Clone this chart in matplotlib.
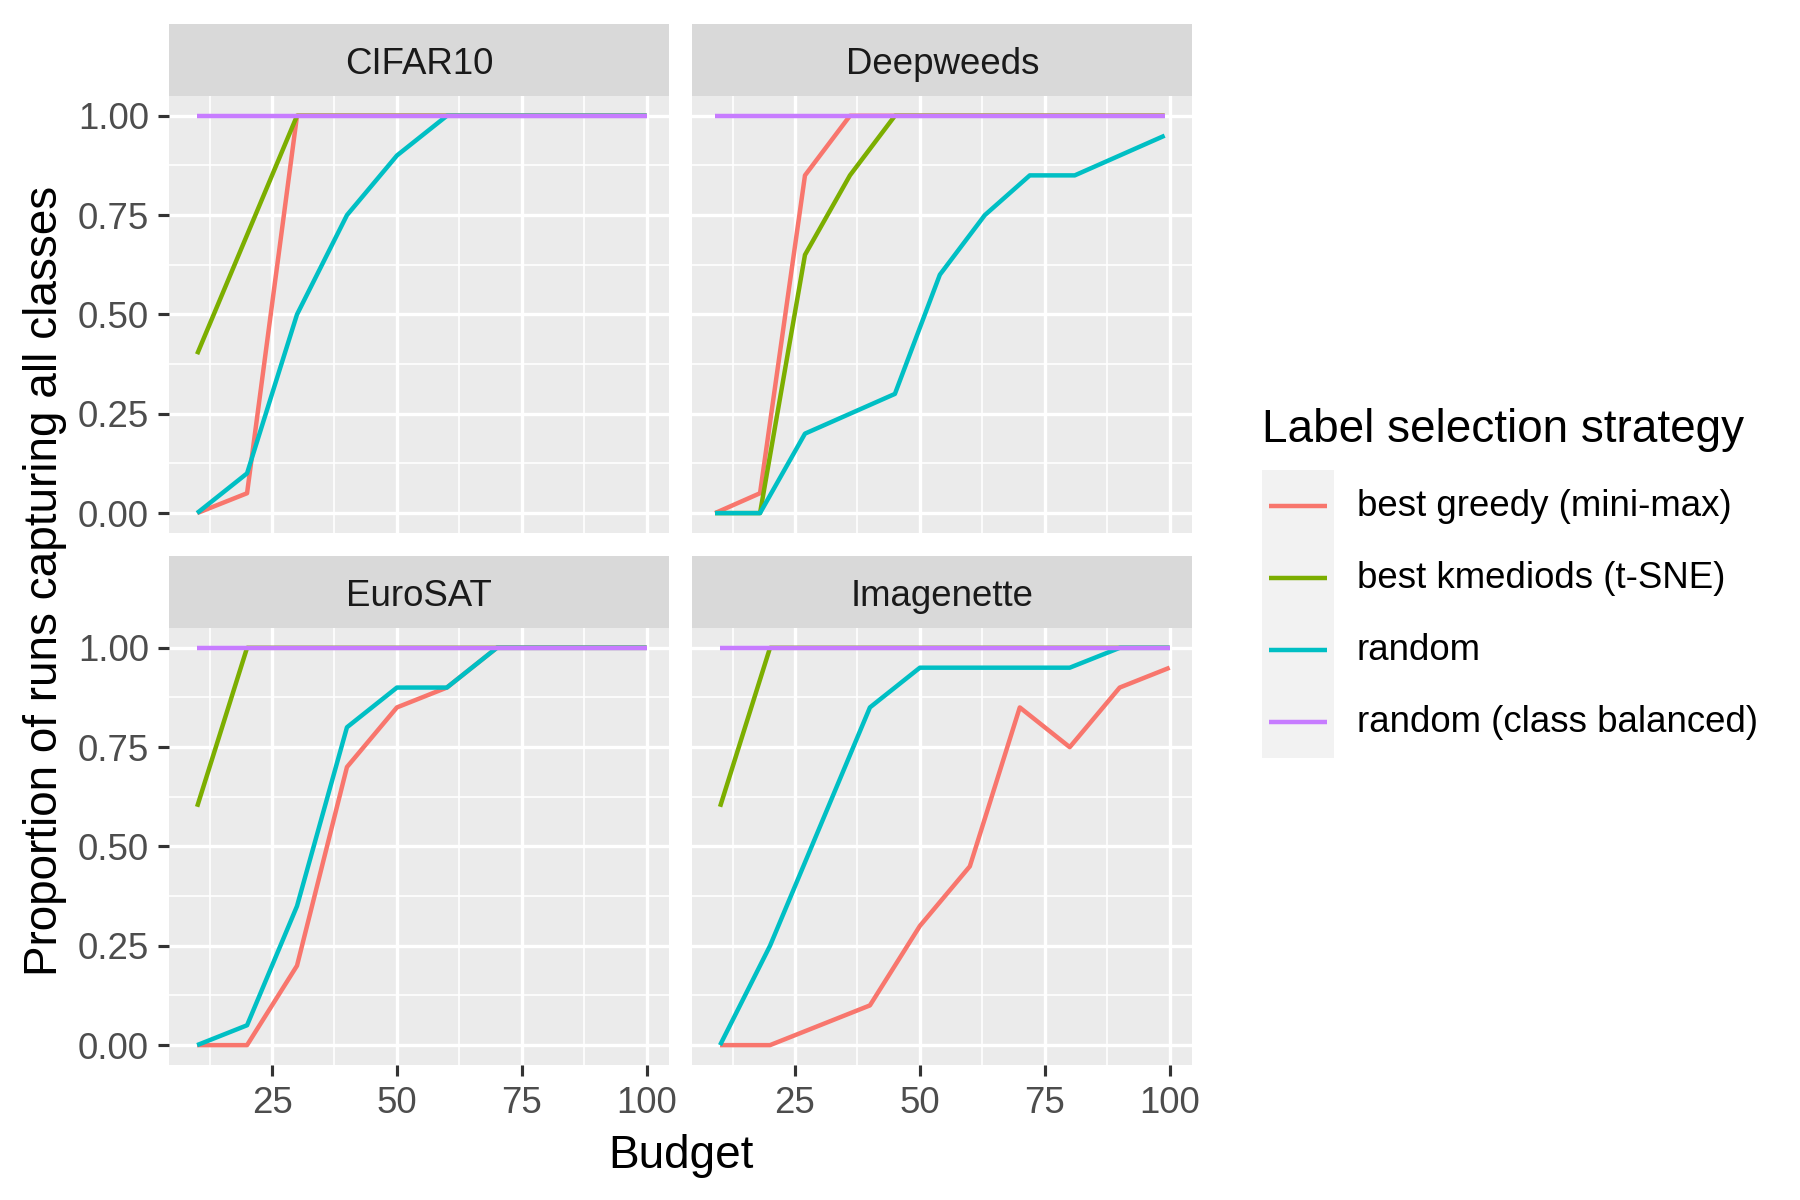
import matplotlib
matplotlib.use("Agg")
import matplotlib.pyplot as plt
from matplotlib.lines import Line2D
from matplotlib.patches import Rectangle

plt.rcParams['font.family'] = ['Liberation Sans', 'DejaVu Sans']

# ---- data ----
datasets = ["CIFAR10", "Deepweeds", "EuroSAT", "Imagenette"]
strategies = ["best greedy (mini-max)", "best kmediods (t-SNE)", "random", "random (class balanced)"]
colors = ["#F8766D", "#7CAE00", "#00BFC4", "#C77CFF"]

budget_10 = [10, 20, 30, 40, 50, 60, 70, 80, 90, 100]
budget_9 = [9, 18, 27, 36, 45, 54, 63, 72, 81, 90, 99]

cifar_greedy = [0.0, 0.05, 1.0, 1.0, 1.0, 1.0, 1.0, 1.0, 1.0, 1.0]
cifar_kmed = [0.4, 0.7, 1.0, 1.0, 1.0, 1.0, 1.0, 1.0, 1.0, 1.0]
cifar_random = [0.0, 0.1, 0.5, 0.75, 0.9, 1.0, 1.0, 1.0, 1.0, 1.0]
cifar_balanced = [1.0, 1.0, 1.0, 1.0, 1.0, 1.0, 1.0, 1.0, 1.0, 1.0]

deep_greedy = [0.0, 0.05, 0.85, 1.0, 1.0, 1.0, 1.0, 1.0, 1.0, 1.0, 1.0]
deep_kmed = [0.0, 0.0, 0.65, 0.85, 1.0, 1.0, 1.0, 1.0, 1.0, 1.0, 1.0]
deep_random = [0.0, 0.0, 0.2, 0.25, 0.3, 0.6, 0.75, 0.85, 0.85, 0.9, 0.95]
deep_balanced = [1.0, 1.0, 1.0, 1.0, 1.0, 1.0, 1.0, 1.0, 1.0, 1.0, 1.0]

euro_greedy = [0.0, 0.0, 0.2, 0.7, 0.85, 0.9, 1.0, 1.0, 1.0, 1.0]
euro_kmed = [0.6, 1.0, 1.0, 1.0, 1.0, 1.0, 1.0, 1.0, 1.0, 1.0]
euro_random = [0.0, 0.05, 0.35, 0.8, 0.9, 0.9, 1.0, 1.0, 1.0, 1.0]
euro_balanced = [1.0, 1.0, 1.0, 1.0, 1.0, 1.0, 1.0, 1.0, 1.0, 1.0]

imnet_greedy = [0.0, 0.0, 0.05, 0.1, 0.3, 0.45, 0.85, 0.75, 0.9, 0.95]
imnet_kmed = [0.6, 1.0, 1.0, 1.0, 1.0, 1.0, 1.0, 1.0, 1.0, 1.0]
imnet_random = [0.0, 0.25, 0.55, 0.85, 0.95, 0.95, 0.95, 0.95, 1.0, 1.0]
imnet_balanced = [1.0, 1.0, 1.0, 1.0, 1.0, 1.0, 1.0, 1.0, 1.0, 1.0]

x_ticks = [25, 50, 75, 100]
x_tick_labels = ["25", "50", "75", "100"]
y_ticks = [0.0, 0.25, 0.5, 0.75, 1.0]
y_tick_labels = ["0.00", "0.25", "0.50", "0.75", "1.00"]

panel_data = {
    "CIFAR10": (budget_10, [cifar_greedy, cifar_kmed, cifar_random, cifar_balanced]),
    "Deepweeds": (budget_9, [deep_greedy, deep_kmed, deep_random, deep_balanced]),
    "EuroSAT": (budget_10, [euro_greedy, euro_kmed, euro_random, euro_balanced]),
    "Imagenette": (budget_10, [imnet_greedy, imnet_kmed, imnet_random, imnet_balanced]),
}

# ---- layout (figure fractions) ----
fig = plt.figure(figsize=(6, 4), dpi=300)
W_IN, H_IN = 6.0, 4.0
pt_w = 1 / (W_IN * 72)
pt_h = 1 / (H_IN * 72)

pw = 0.2778
left0 = 0.0941
left1 = left0 + pw + 5.5 * pt_w
ph = 0.3642
strip_h = 17.3 * pt_h
bottom_row = 0.1125
top_row = bottom_row + ph + strip_h + 5.5 * pt_h

xmin_all, xmax_all = 9, 100
xr = xmax_all - xmin_all
xlim = (xmin_all - 0.05 * xr, xmax_all + 0.05 * xr)
ylim = (-0.05, 1.05)

positions = {
    "CIFAR10": (left0, top_row),
    "Deepweeds": (left1, top_row),
    "EuroSAT": (left0, bottom_row),
    "Imagenette": (left1, bottom_row),
}

TICK_COLOR = "#333333"
LABEL_COLOR = "#4D4D4D"
LW_DATA = 1.07
LW_MAJOR = 0.8
LW_MINOR = 0.4

for name in datasets:
    l, b = positions[name]
    ax = fig.add_axes([l, b, pw, ph])
    ax.set_facecolor("#EBEBEB")
    for s in ax.spines.values():
        s.set_visible(False)
    ax.set_xlim(*xlim)
    ax.set_ylim(*ylim)
    # grid
    for xv in [12.5, 37.5, 62.5, 87.5]:
        ax.axvline(xv, color="white", lw=LW_MINOR, zorder=0.5)
    for yv in [0.125, 0.375, 0.625, 0.875]:
        ax.axhline(yv, color="white", lw=LW_MINOR, zorder=0.5)
    for xv in x_ticks:
        ax.axvline(xv, color="white", lw=LW_MAJOR, zorder=0.6)
    for yv in y_ticks:
        ax.axhline(yv, color="white", lw=LW_MAJOR, zorder=0.6)

    xs, series = panel_data[name]
    for i, ys in enumerate(series):
        ax.plot(xs, ys, color=colors[i], lw=LW_DATA, solid_capstyle="butt",
                solid_joinstyle="round", zorder=2 + i)

    ax.set_xticks(x_ticks)
    ax.set_yticks(y_ticks)
    ax.tick_params(axis="both", length=2.75, width=0.75, color=TICK_COLOR,
                   labelcolor=LABEL_COLOR, labelsize=8.8, pad=2.2)
    if b == bottom_row:
        ax.set_xticklabels(x_tick_labels)
    else:
        ax.tick_params(axis="x", length=0, labelbottom=False)
    if l == left0:
        ax.set_yticklabels(y_tick_labels)
    else:
        ax.tick_params(axis="y", length=0, labelleft=False)

    # strip
    sax = fig.add_axes([l, b + ph, pw, strip_h])
    sax.set_facecolor("#D9D9D9")
    sax.set_xticks([])
    sax.set_yticks([])
    for s in sax.spines.values():
        s.set_visible(False)
    sax.text(0.5, 0.30, name, ha="center", va="baseline", fontsize=8.8,
             color="#1A1A1A", transform=sax.transAxes)

# axis titles
panels_center_x = (left0 + left1 + pw) / 2
fig.text(panels_center_x, 0.027, "Budget", ha="center", va="baseline",
         fontsize=11, color="black")
fig.text(0.0128, (bottom_row + top_row + ph) / 2, "Proportion of runs capturing all classes",
         rotation=90, ha="left", va="center", fontsize=11, color="black")

# legend
leg_x = 0.7011
key_w = 17.28 * pt_w
key_h = 17.28 * pt_h
keys_top = 0.6083
fig.text(leg_x, 0.632, "Label selection strategy", ha="left", va="baseline",
         fontsize=11, color="black")
lax = fig.add_axes([leg_x, keys_top - 4 * key_h, key_w, 4 * key_h])
lax.set_xlim(0, 1)
lax.set_ylim(0, 4)
lax.axis("off")
lax.add_patch(Rectangle((0, 0), 1, 4, facecolor="#F2F2F2", edgecolor="none"))
for i, (lab, c) in enumerate(zip(strategies, colors)):
    yc = 4 - i - 0.5
    lax.add_line(Line2D([0.1, 0.9], [yc, yc], color=c, lw=LW_DATA, solid_capstyle="butt"))
    fig.text(leg_x + key_w + 5.5 * pt_w, keys_top - (i + 0.5) * key_h, lab,
             ha="left", va="center", fontsize=8.8, color="black")

fig.savefig("out.png", dpi=300, facecolor="white")
